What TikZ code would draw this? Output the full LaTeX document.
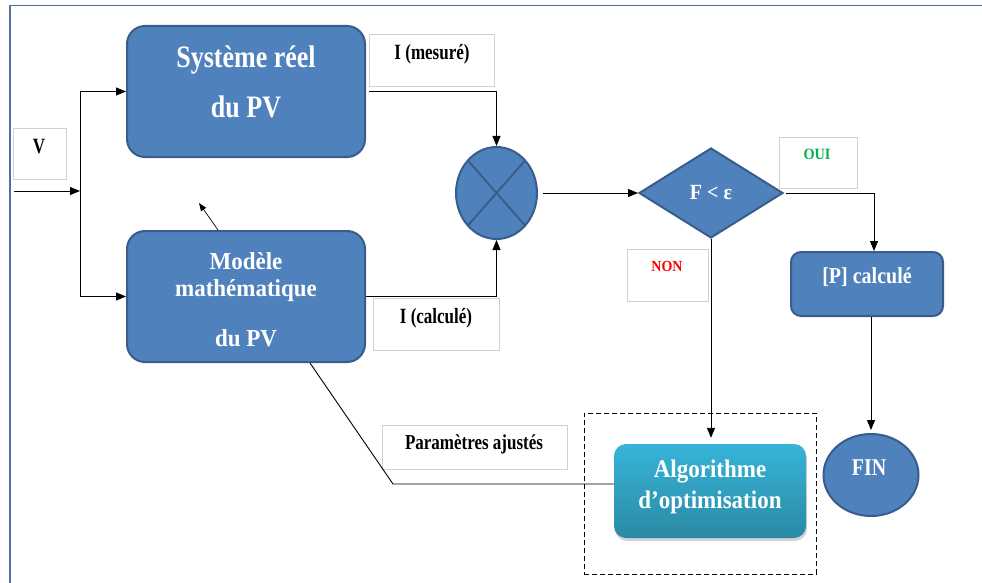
\documentclass[tikz,border=0pt]{standalone}
\usepackage{graphicx}
\usepackage{fontspec}
\setmainfont{Liberation Serif}
\usetikzlibrary{shapes.geometric,arrows.meta,shadows,calc}
\definecolor{pvfill}{HTML}{4F81BD}
\definecolor{pvline}{HTML}{385D8A}
\definecolor{frm}{HTML}{50709F}
\definecolor{algtop}{HTML}{37B4D8}
\definecolor{algbot}{HTML}{2A8AA3}
\definecolor{ouig}{HTML}{00B050}
\tikzset{
  bluebox/.style={draw=pvline, line width=2pt, fill=pvfill, rounded corners=18pt, inner sep=0pt},
  lblbox/.style={draw=black!18, line width=0.6pt, fill=white, inner sep=0pt},
  wtxt/.style={text=white, inner sep=0pt, font=\bfseries},
  btxt/.style={text=black, inner sep=0pt, font=\bfseries},
  conn/.style={draw=black, line width=0.9pt},
  arr/.style={conn, -{Triangle[length=10pt,width=8pt]}},
  sarr/.style={conn, line width=0.7pt, -{Triangle[length=8pt,width=6pt]}},
}
\newcommand{\fsz}[1]{\fontsize{#1}{#1}\selectfont}
\newcommand{\vs}[2]{\scalebox{1}[#1]{#2}}
\begin{document}
\begin{tikzpicture}[x=1pt,y=-1pt]
\useasboundingbox (0,0) rectangle (982,583);
% frame
\draw[frm, line width=1.6pt] (10,583) -- (10,5.5) -- (982,5.5);

% main boxes
\node[bluebox, minimum width=238pt, minimum height=131pt] (sys) at (246,91.5) {};
\node[wtxt, font=\bfseries\fsz{26}] (sysT1) at (246,60) {\vs{1.2}{Système réel}};
\node[wtxt, font=\bfseries\fsz{26}] (sysT2) at (246,107) {\vs{1.2}{du PV}};

\node[bluebox, minimum width=238pt, minimum height=131pt] (mod) at (246,296.5) {};
\node[wtxt, font=\bfseries\fsz{23}] (modT1) at (246,261) {\vs{1.06}{Modèle}};
\node[wtxt, font=\bfseries\fsz{23}] (modT2) at (246,291) {\vs{1.06}{mathématique}};
\node[wtxt, font=\bfseries\fsz{23}] (modT3) at (246,338) {\vs{1.06}{du PV}};

% label boxes
\node[lblbox, minimum width=53pt, minimum height=51pt] (lblV) at (39.5,153.5) {};
\node[btxt, font=\bfseries\fsz{17}] (lblVT) at (39,147) {\vs{1.28}{V}};
\node[lblbox, minimum width=125pt, minimum height=52pt] (lblMes) at (431.5,60) {};
\node[btxt, font=\bfseries\fsz{17}] (lblMesT) at (432,54) {\vs{1.28}{I (mesuré)}};
\node[lblbox, minimum width=126pt, minimum height=52pt] (lblCal) at (436,324) {};
\node[btxt, font=\bfseries\fsz{17}] (lblCalT) at (436,318) {\vs{1.28}{I (calculé)}};
\node[lblbox, minimum width=185pt, minimum height=44pt] (lblPar) at (474.5,447) {};
\node[btxt, font=\bfseries\fsz{17}] (lblParT) at (474,444) {\vs{1.25}{Paramètres ajustés}};
\node[lblbox, minimum width=78pt, minimum height=51pt] (lblOui) at (818,162.5) {};
\node[btxt, text=ouig, font=\bfseries\fsz{14.3}] (lblOuiT) at (817,154) {\vs{1.1}{OUI}};
\node[lblbox, minimum width=81pt, minimum height=52pt] (lblNon) at (667.5,275) {};
\node[btxt, text=red, font=\bfseries\fsz{14}] (lblNonT) at (667,266) {\vs{1.1}{NON}};

% comparator
\node[ellipse, draw=pvline, line width=2pt, fill=pvfill, minimum width=81pt, minimum height=92pt, inner sep=0pt] (cmp) at (496.5,193) {};
\draw[pvline, line width=2pt] ($(cmp.center)+(-28.6,-32.5)$) -- ($(cmp.center)+(28.6,32.5)$);
\draw[pvline, line width=2pt] ($(cmp.center)+(28.6,-32.5)$) -- ($(cmp.center)+(-28.6,32.5)$);

% decision
\node[diamond, draw=pvline, line width=2pt, fill=pvfill, minimum width=144pt, minimum height=90pt, aspect=1.6, inner sep=0pt, text=white, font=\bfseries\fsz{20}] (dia) at (711,193) {\vs{1.08}{F < ε}};

% result
\node[bluebox, rounded corners=10pt, minimum width=152pt, minimum height=64pt] (pc) at (867,284) {};
\node[wtxt, font=\bfseries\fsz{20}] (pcT) at (867,277) {\vs{1.14}{[P] calculé}};

% dashed container and algorithm
\node[draw=black, line width=1pt, dash pattern=on 5pt off 3pt, minimum width=232pt, minimum height=161pt, inner sep=0pt] (dbox) at (700,493.5) {};
\node[rounded corners=12pt, top color=algtop, bottom color=algbot, draw=none, minimum width=192pt, minimum height=94pt, inner sep=0pt, drop shadow={opacity=0.35, shadow xshift=1pt, shadow yshift=-3pt}] (alg) at (710,491) {};
\node[wtxt, font=\bfseries\fsz{23}] (algT1) at (710,472) {\vs{1.1}{Algorithme}};
\node[wtxt, font=\bfseries\fsz{23}] (algT2) at (710,502) {\vs{1.1}{d’optimisation}};

% end
\node[ellipse, draw=pvline, line width=2pt, fill=pvfill, minimum width=95pt, minimum height=82pt, inner sep=0pt] (fin) at (871,475) {};
\node[wtxt, font=\bfseries\fsz{20}] (finT) at (869,468) {\vs{1.2}{FIN}};

% connectors
\coordinate (vin) at (14,191);
\coordinate (sp) at (80,191);
\coordinate (pk) at (393,484);
\draw[arr] (vin) -- (sp);
\draw[arr] (sp) |- (sys.west);
\draw[arr] (sp) |- (mod.west);
\draw[sarr] ([xshift=-28pt]mod.north) -- ++(-19,-27);
\draw[arr] ([xshift=3pt]sys.east) -| (cmp.north);
\draw[arr] (mod.east) -| (cmp.south);
\draw[arr, shorten <=5pt] (cmp.east) -- (dia.west);
\draw[arr, shorten <=2pt] (dia.east) -| ([xshift=7pt]pc.north);
\draw[arr, shorten >=6pt] (dia.south) -- (dia.south |- alg.north);
\draw[arr, shorten >=3pt] (pc.south -| fin.north) -- (fin.north);
\draw[conn] ([xshift=64pt]mod.south) -- (pk) -- (pk -| alg.west);
\end{tikzpicture}
\end{document}
